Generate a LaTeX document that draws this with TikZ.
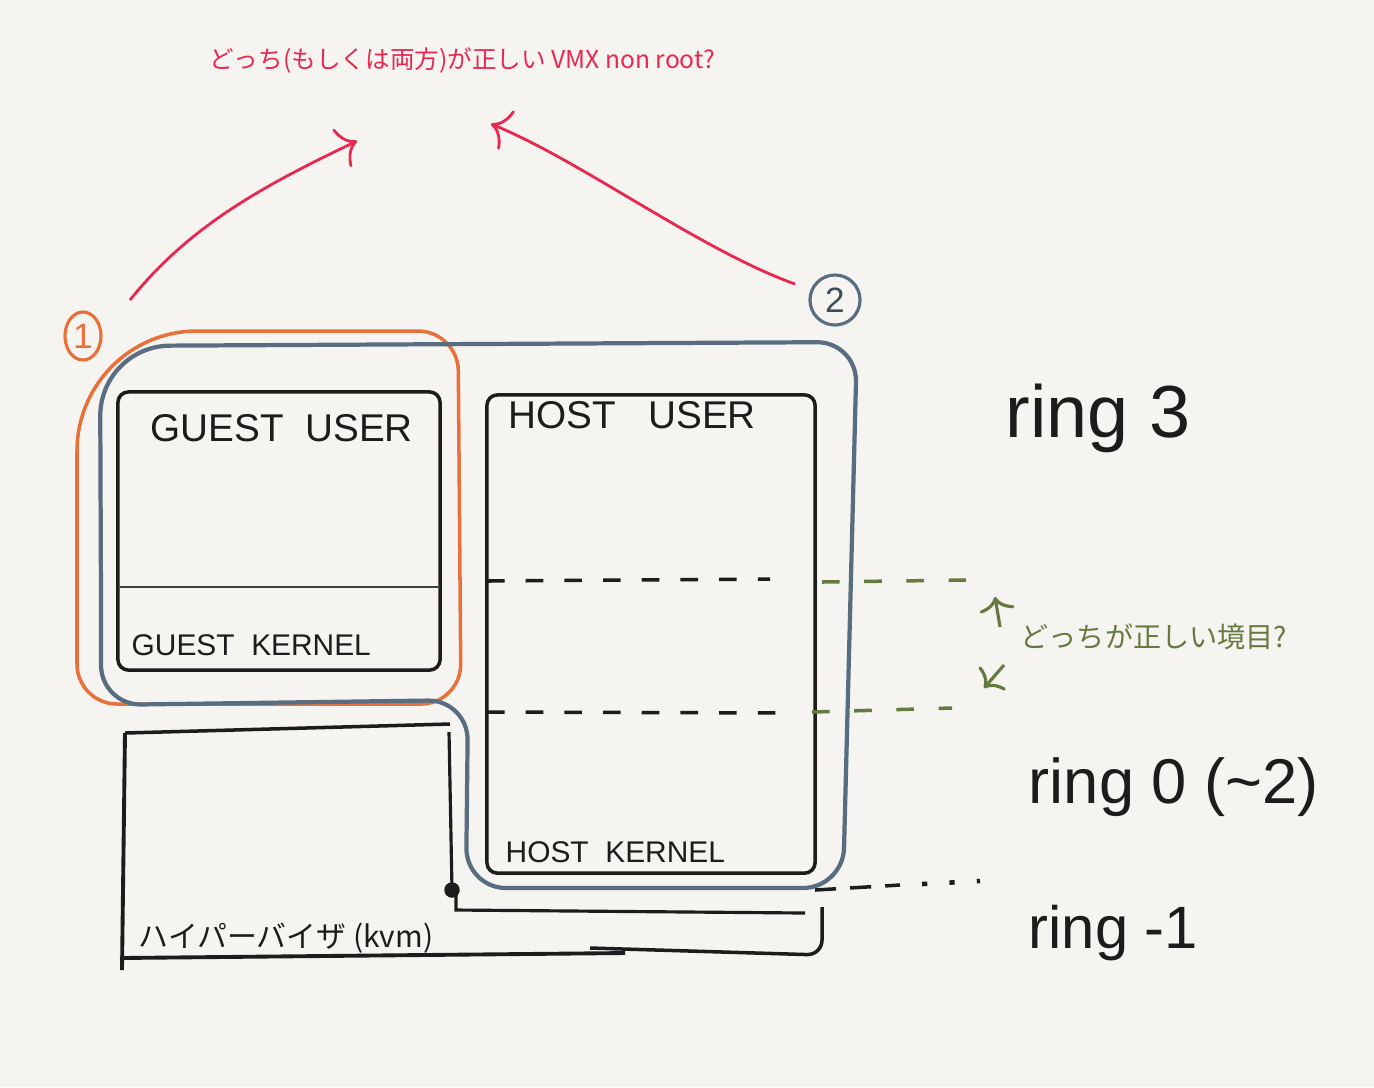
\documentclass[tikz,border=0pt]{standalone}
\usepackage{fontspec}
\setmainfont{Liberation Sans}
\newfontfamily\jpfont{Noto Sans CJK JP}
\usetikzlibrary{arrows.meta,positioning,shapes.geometric}
\definecolor{paper}{RGB}{245,244,241}
\definecolor{pen}{RGB}{28,28,28}
\definecolor{redpen}{RGB}{232,40,80}
\definecolor{orangepen}{RGB}{232,112,58}
\definecolor{bluepen}{RGB}{88,110,128}
\definecolor{greenpen}{RGB}{102,122,64}
\tikzset{
	box/.style={draw=pen, line width=1pt, rounded corners=3pt, inner sep=0pt},
	caps/.style={text=pen, inner sep=0pt, anchor=base west},
	ringlab/.style={text=pen, inner sep=0pt, anchor=base west},
	bound/.style={pen, line width=1pt, dash pattern=on 5pt off 6pt},
	gbound/.style={greenpen, line width=1pt, dash pattern=on 5pt off 7pt},
	redarrow/.style={redpen, line width=0.8pt, -{To[length=5pt,width=12pt]}},
	garrow/.style={greenpen, line width=0.9pt, -{To[length=4pt,width=10pt]}},
}
\begin{document}
\begin{tikzpicture}[x=0.01cm, y=-0.01cm]
	\fill[paper] (0,0) rectangle (1374,1087);
	%%%%%%%% question on top
	\node[text=redpen, inner sep=0pt, font=\jpfont\fontsize{7}{9}\selectfont] (ask) at (462,60) {どっち(もしくは両方)が正しい VMX non root?};
	\coordinate (t1) at (357,141);
	\coordinate (t2) at (491,124);
	%%%%%%%% the two candidates
	\draw[orangepen, line width=1pt] (77,600) [rounded corners=1.2cm] -- (77,331) [rounded corners=0.4cm] -- (458,331) -- (461,704) -- (77,704) -- cycle;
	\draw[bluepen, line width=1.2pt] (101,600) [rounded corners=0.7cm] -- (100,346) [rounded corners=0.4cm] -- (857,342) -- (843,888) -- (466,888) -- (468,700) -- (101,705) -- cycle;
	\node[draw=orangepen, text=orangepen, ellipse, line width=0.9pt, minimum width=0.36cm, minimum height=0.48cm, inner sep=0pt] (one) at (83,336) {1};
	\node[draw=bluepen, text=bluepen!70!black, circle, line width=0.9pt, minimum size=0.5cm, inner sep=0pt] (two) at (835,300) {2};
	\coordinate (s1) at (130,300);
	\coordinate (s2) at (795,284);
	\draw[redarrow] (s1) .. controls (190,225) and (265,185) .. (t1);
	\draw[redarrow] (s2) .. controls (700,250) and (580,160) .. (t2);
	%%%%%%%% guest
	\node[box, minimum width=3.22cm, minimum height=2.78cm] (guest) at (279,531) {};
	\coordinate (gdl) at (118,587);
	\coordinate (gdr) at (440,587);
	\draw[pen!85, line width=0.8pt] (gdl) -- (gdr);
	\node[caps, font=\fontsize{11}{13}\selectfont] (gu) at (150,441) {GUEST\ \ USER};
	\node[caps, font=\fontsize{8.5}{10}\selectfont] (gk) at (131,655) {GUEST\ \ KERNEL};
	%%%%%%%% host
	\node[box, minimum width=3.28cm, minimum height=4.78cm] (host) at (651,634) {};
	\node[caps, font=\fontsize{11}{13}\selectfont] (hu) at (508,428) {HOST\ \ \ USER};
	\node[caps, font=\fontsize{8.5}{10}\selectfont] (hk) at (505,862) {HOST\ \ KERNEL};
	%%%%%%%% hypervisor
	\draw[pen, line width=1.1pt] (125,733) -- (122,970);
	\draw[pen, line width=1pt] (125,733) -- (450,724);
	\draw[pen, line width=0.9pt] (449,732) -- (452,890);
	\fill[pen] (452,890) circle (2.2pt);
	\draw[pen, line width=0.9pt] (456,890) -- (456,910) -- (805,913);
	\draw[pen, line width=1pt, rounded corners=0.15cm] (822,907) -- (822,955) -- (590,948);
	\draw[pen, line width=1.1pt] (120,958) -- (625,953);
	\node[caps, font=\jpfont\fontsize{8.5}{10}\selectfont] (hv) at (138,947) {ハイパーバイザ (kvm)};
	%%%%%%%% ring boundaries
	\coordinate (b1l) at (487,581);
	\coordinate (b1r) at (770,579);
	\coordinate (g1l) at (822,582);
	\coordinate (g1r) at (968,580);
	\coordinate (b2l) at (487,712);
	\coordinate (b2r) at (785,713);
	\coordinate (g2l) at (812,712);
	\coordinate (g2r) at (952,708);
	\coordinate (b3l) at (815,890);
	\coordinate (b3m) at (900,885);
	\coordinate (b3d) at (922,884);
	\coordinate (b3r) at (980,881);
	\draw[bound] (b1l) -- (b1r);
	\draw[bound] (b2l) -- (b2r);
	\draw[gbound] (g1l) -- (g1r);
	\draw[gbound] (g2l) -- (g2r);
	\draw[pen, line width=1pt, dash pattern=on 6pt off 4pt] (b3l) -- (b3m);
	\draw[pen, line width=1.3pt, dash pattern=on 1.5pt off 6.3pt] (b3d) -- (b3r);
	%%%%%%%% which boundary
	\node[text=greenpen, inner sep=0pt, anchor=base west, font=\jpfont\fontsize{8}{10}\selectfont] (which) at (1020,647) {どっちが正しい境目?};
	\coordinate (w1s) at (1000,627);
	\coordinate (w1e) at (995,597);
	\coordinate (w2s) at (1004,665);
	\coordinate (w2e) at (984,688);
	\draw[garrow] (w1s) -- (w1e);
	\draw[garrow] (w2s) -- (w2e);
	%%%%%%%% rings
	\node[ringlab, font=\fontsize{21}{25}\selectfont] (r3) at (1005,437) {ring 3};
	\node[ringlab, font=\fontsize{18}{22}\selectfont] (r0) at (1028,803) {ring 0 (\textasciitilde2)};
	\node[ringlab, font=\fontsize{17}{21}\selectfont] (rm) at (1028,948) {ring -1};
\end{tikzpicture}
\end{document}
